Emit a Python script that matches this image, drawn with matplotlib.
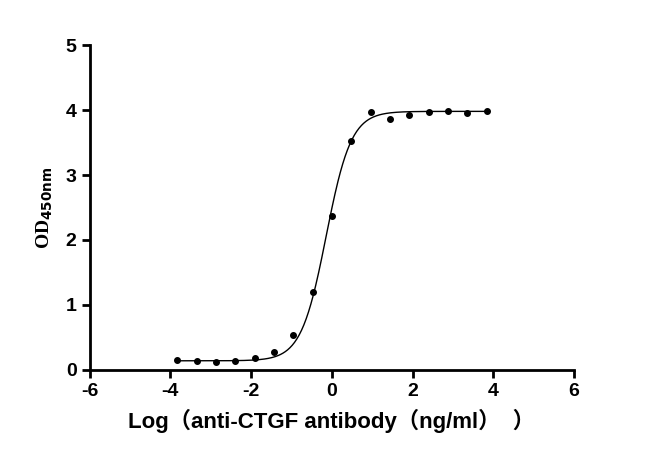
import matplotlib
matplotlib.use('Agg')
import matplotlib.pyplot as plt
import numpy as np

plt.rcParams['axes.unicode_minus'] = False

log_conc = [-3.83, -3.35, -2.87, -2.40, -1.91, -1.43, -0.96, -0.47, 0.00, 0.48,
            0.97, 1.45, 1.92, 2.41, 2.88, 3.36, 3.85]
od450 = [0.15, 0.14, 0.12, 0.14, 0.18, 0.28, 0.54, 1.20, 2.37, 3.52,
         3.97, 3.86, 3.92, 3.97, 3.98, 3.95, 3.98]

# 4PL fit parameters
bottom, top, logec50, hill = 0.14, 3.98, -0.14, 1.4

fig = plt.figure(figsize=(6.5, 4.7), dpi=100)
ax = fig.add_axes([0.138, 0.213, 0.745, 0.691])

xf = np.linspace(min(log_conc), max(log_conc), 400)
yf = bottom + (top - bottom) / (1 + 10 ** ((logec50 - xf) * hill))
ax.plot(xf, yf, color='black', lw=1)
ax.plot(log_conc, od450, 'o', color='black', ms=4)

ax.set_xlim(-6, 6)
ax.set_ylim(0, 5)
ax.set_xticks([-6, -4, -2, 0, 2, 4, 6])
ax.set_yticks([0, 1, 2, 3, 4, 5])
for s in ['top', 'right']:
    ax.spines[s].set_visible(False)
for s in ['left', 'bottom']:
    ax.spines[s].set_linewidth(2)
ax.tick_params(direction='out', width=2, length=6, labelsize=14)
for lab in ax.get_xticklabels() + ax.get_yticklabels():
    lab.set_fontweight('bold')
    lab.set_family('Liberation Sans')

ax.set_ylabel(r'OD$_{\mathbf{450nm}}$', fontsize=14, fontweight='bold',
              family='Liberation Serif', labelpad=8)
ax.set_xlabel('Log（anti-CTGF antibody（ng/ml）  ）', fontsize=16, fontweight='bold',
              family=['Liberation Sans', 'Noto Sans CJK SC'], labelpad=6)

fig.savefig('out.png')
